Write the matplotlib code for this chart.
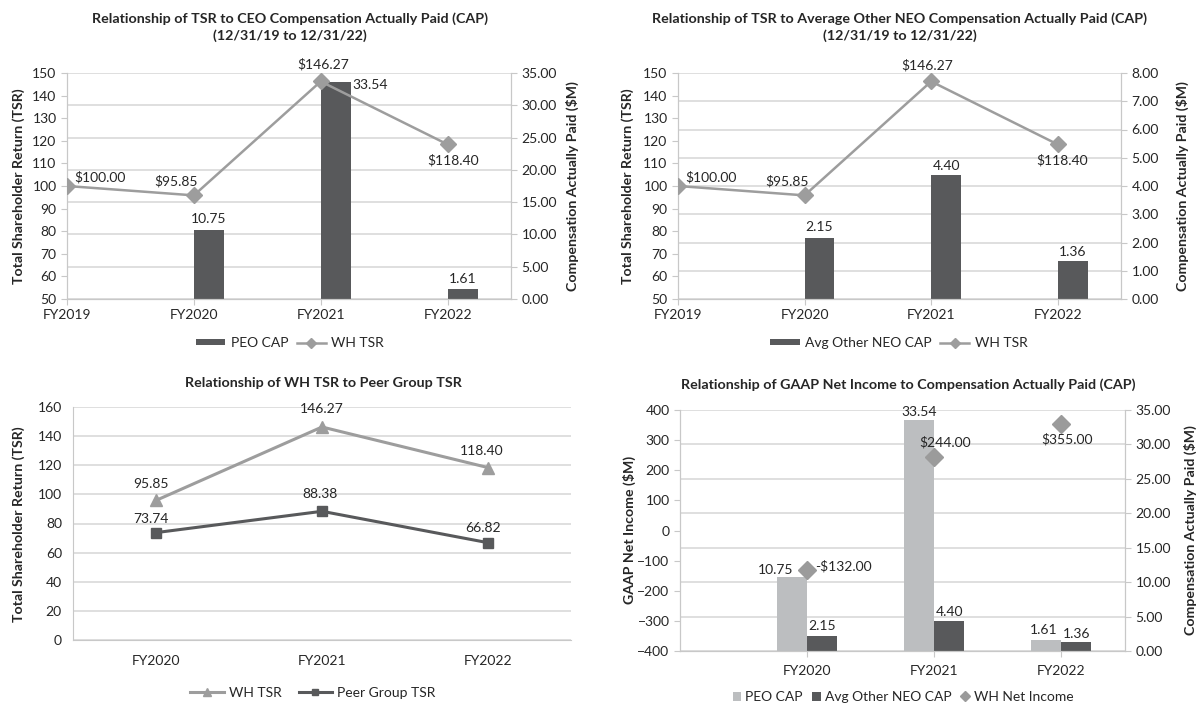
import matplotlib
matplotlib.use('Agg')
import matplotlib.pyplot as plt
import numpy as np

plt.rcParams['font.family'] = ['Lato', 'DejaVu Sans']
plt.rcParams['font.size'] = 10
plt.rcParams['text.color'] = '#262626'
plt.rcParams['axes.labelcolor'] = '#262626'
plt.rcParams['xtick.color'] = '#262626'
plt.rcParams['ytick.color'] = '#262626'

# data
years4 = ['FY2019', 'FY2020', 'FY2021', 'FY2022']
years3 = ['FY2020', 'FY2021', 'FY2022']
wh_tsr = [100.00, 95.85, 146.27, 118.40]
peo_cap = [np.nan, 10.75, 33.54, 1.61]
neo_cap = [np.nan, 2.15, 4.40, 1.36]
wh_tsr3 = [95.85, 146.27, 118.40]
peer_tsr = [73.74, 88.38, 66.82]
net_income = [np.nan, -132.00, 244.00, 355.00]

DARK = '#58595b'
LIGHT = '#bcbec0'
LINE = '#9d9d9d'
GRID = '#d9d9d9'
SPINE = '#c8c8c8'

W, H = 1203, 705
fig = plt.figure(figsize=(W / 100, H / 100), dpi=100)


def box(l, t, r, b):
    return [l / W, 1 - b / H, (r - l) / W, (b - t) / H]


def style(ax):
    ax.spines['top'].set_visible(False)
    for s in ['left', 'right', 'bottom']:
        ax.spines[s].set_color(SPINE)
    ax.tick_params(length=4, color=SPINE, labelsize=10)


def vlabel(x, y, s):
    fig.text(x / W, 1 - y / H, s, rotation=90, ha='center', va='center',
             fontweight='bold', fontsize=10.2)


def title(x, y, s):
    fig.text(x / W, 1 - y / H, s, ha='center', va='center', fontweight='bold',
             fontsize=10.3, linespacing=1.35)


def lab(ax, s, xy, dx, dy, ha='center'):
    ax.annotate(s, xy, xytext=(dx, dy), textcoords='offset pixels', ha=ha, va='center')


def tsr_cap_chart(rect, bars, bar_label, ylim2, step2, line_offs, bar_offs, leg_x):
    ax1 = fig.add_axes(box(*rect))
    ax2 = ax1.twinx()
    x = np.arange(4)
    bw = 0.236
    ax2.bar(x, bars, width=bw, align='edge', color=DARK, label=bar_label, zorder=2)
    ax1.plot(x, wh_tsr, color=LINE, lw=1.8, marker='D', ms=8.5, mfc=LINE, mec=LINE,
             label='WH TSR', zorder=3)
    ax1.set_zorder(ax2.get_zorder() + 1)
    ax1.patch.set_visible(False)
    ax1.set_xlim(0, 3.5)
    ax1.set_ylim(50, 150)
    ax1.set_yticks(range(50, 151, 10))
    ax2.set_ylim(*ylim2)
    t2 = np.arange(ylim2[0], ylim2[1] + 0.001, step2)
    ax2.set_yticks(t2)
    ax2.set_yticklabels(['%.2f' % v for v in t2])
    ax2.grid(axis='y', color=GRID, lw=1.2)
    ax2.set_axisbelow(True)
    ax1.set_xticks(x)
    ax1.set_xticklabels(years4)
    style(ax1)
    style(ax2)
    for i in range(4):
        dx, dy, ha = line_offs[i]
        lab(ax1, '$%.2f' % wh_tsr[i], (x[i], wh_tsr[i]), dx, dy, ha)
    for i in range(1, 4):
        dx, dy, ha = bar_offs[i]
        xx = x[i] + (bw if ha == 'left' else bw / 2)
        lab(ax2, '%.2f' % bars[i], (xx, bars[i]), dx, dy, ha)
    h1, l1 = ax2.get_legend_handles_labels()
    h2, l2 = ax1.get_legend_handles_labels()
    fig.legend(h1 + h2, l1 + l2, loc='center', bbox_to_anchor=(leg_x / W, 1 - 343 / H),
               ncol=2, frameon=False, handlelength=2.1, handleheight=0.3, columnspacing=0.6,
               handletextpad=0.4, markerscale=0.6, fontsize=10)
    return ax1, ax2


tsr_cap_chart((67, 73, 511, 299), peo_cap, 'PEO CAP', (0, 35), 5,
              {0: (7, 9, 'left'), 1: (4, 14, 'right'), 2: (2, 17, 'center'), 3: (6, -16, 'center')},
              {1: (0, 11, 'center'), 2: (2, -3, 'left'), 3: (0, 10, 'center')}, 290)
title(290, 27, 'Relationship of TSR to CEO Compensation Actually Paid (CAP)\n(12/31/19 to 12/31/22)')
vlabel(19, 186, 'Total Shareholder Return (TSR)')
vlabel(572, 186, 'Compensation Actually Paid ($M)')

tsr_cap_chart((678, 73, 1121, 299), neo_cap, 'Avg Other NEO CAP', (0, 8), 1,
              {0: (7, 9, 'left'), 1: (4, 14, 'right'), 2: (-4, 16, 'center'), 3: (4, -16, 'center')},
              {1: (0, 11, 'center'), 2: (0, 9, 'center'), 3: (0, 9, 'center')}, 899)
title(900, 27, 'Relationship of TSR to Average Other NEO Compensation Actually Paid (CAP)\n(12/31/19 to 12/31/22)')
vlabel(628, 186, 'Total Shareholder Return (TSR)')
vlabel(1182, 186, 'Compensation Actually Paid ($M)')

# chart 3
ax3 = fig.add_axes(box(73, 407, 571, 640))
x3 = np.arange(3)
ax3.plot(x3, wh_tsr3, color=LINE, lw=2.2, marker='^', ms=9, label='WH TSR', zorder=3)
ax3.plot(x3, peer_tsr, color=DARK, lw=2.2, marker='s', ms=7.5, label='Peer Group TSR', zorder=3)
ax3.set_xlim(-0.5, 2.5)
ax3.set_ylim(0, 160)
ax3.set_yticks(range(0, 161, 20))
ax3.set_xticks(x3)
ax3.set_xticklabels(years3)
ax3.grid(axis='y', color=GRID, lw=1.2)
ax3.set_axisbelow(True)
style(ax3)
ax3.spines['right'].set_visible(False)
ax3.tick_params(axis='x', length=0, pad=11)
ax3.tick_params(axis='y', length=0, pad=8)
wh_offs = [(-5, 16), (0, 18), (-6, 17)]
peer_offs = [(-5, 14), (-2, 17), (-5, 15)]
for i in range(3):
    lab(ax3, '%.2f' % wh_tsr3[i], (x3[i], wh_tsr3[i]), *wh_offs[i])
    lab(ax3, '%.2f' % peer_tsr[i], (x3[i], peer_tsr[i]), *peer_offs[i])
h, l = ax3.get_legend_handles_labels()
fig.legend(h, l, loc='center', bbox_to_anchor=(313 / W, 1 - 693 / H), ncol=2, frameon=False,
           handlelength=2.4, columnspacing=1.2, handletextpad=0.4, markerscale=0.6)
title(323, 383, 'Relationship of WH TSR to Peer Group TSR')
vlabel(19, 524, 'Total Shareholder Return (TSR)')

# chart 4
ax4 = fig.add_axes(box(680, 410, 1125, 651))
ax5 = ax4.twinx()
x4 = np.arange(4)
bw = 0.236
ax5.bar(x4, peo_cap, width=-bw, align='edge', color=LIGHT, label='PEO CAP', zorder=2)
ax5.bar(x4, neo_cap, width=bw, align='edge', color=DARK, label='Avg Other NEO CAP', zorder=2)
ax4.plot(x4, net_income, ls='none', marker='D', ms=9, color='#9b9b9b', label='WH Net Income', zorder=3)
ax4.set_zorder(ax5.get_zorder() + 1)
ax4.patch.set_visible(False)
ax4.set_xlim(0, 3.5)
ax4.set_ylim(-400, 400)
ax4.set_yticks(range(-400, 401, 100))
t5 = np.arange(0, 35.1, 5)
ax5.set_ylim(0, 35)
ax5.set_yticks(t5)
ax5.set_yticklabels(['%.2f' % v for v in t5])
ax5.grid(axis='y', color=GRID, lw=1.2)
ax4.set_xticks(x4[1:])
ax4.set_xticklabels(years3)
style(ax4)
style(ax5)
ax4.tick_params(axis='x', pad=6)
vlabel(629, 530, 'GAAP Net Income ($M)')
vlabel(1190, 530, 'Compensation Actually Paid ($M)')
lab(ax5, '%.2f' % peo_cap[1], (x4[1], peo_cap[1]), -14, 7, 'right')
lab(ax5, '%.2f' % peo_cap[2], (x4[2] - bw / 2, peo_cap[2]), 0, 8)
lab(ax5, '%.2f' % peo_cap[3], (x4[3] - bw / 2, peo_cap[3]), -3, 10)
lab(ax5, '%.2f' % neo_cap[1], (x4[1] + bw / 2, neo_cap[1]), 0, 10)
lab(ax5, '%.2f' % neo_cap[2], (x4[2] + bw / 2, neo_cap[2]), 0, 9)
lab(ax5, '%.2f' % neo_cap[3], (x4[3] + bw / 2, neo_cap[3]), 0, 8)
lab(ax4, '-$%.2f' % abs(net_income[1]), (x4[1], net_income[1]), 8, 4, 'left')
lab(ax4, '$%.2f' % net_income[2], (x4[2], net_income[2]), 11, 15)
lab(ax4, '$%.2f' % net_income[3], (x4[3], net_income[3]), 6, -16)
h1, l1 = ax5.get_legend_handles_labels()
h2, l2 = ax4.get_legend_handles_labels()
fig.legend(h1 + h2, l1 + l2, loc='center', bbox_to_anchor=(903 / W, 1 - 697 / H), ncol=3, frameon=False,
           handlelength=0.6, handleheight=0.6, columnspacing=0.7, handletextpad=0.3, markerscale=0.55)
title(908, 385, 'Relationship of GAAP Net Income to Compensation Actually Paid (CAP)')

fig.savefig('out.png', dpi=100)
